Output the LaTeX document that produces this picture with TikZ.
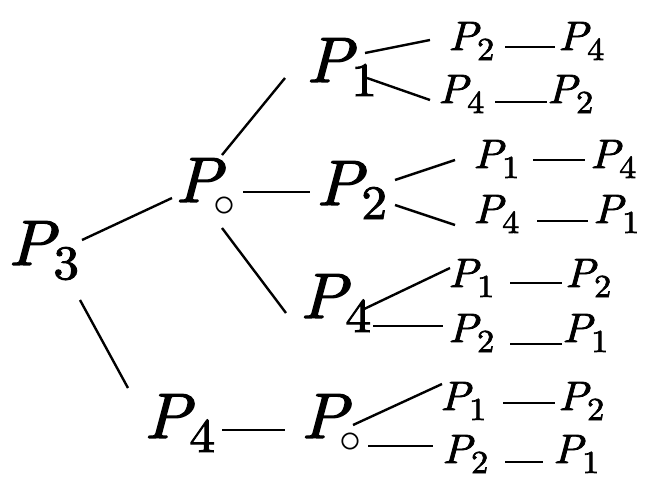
\RequirePackage{fix-cm}
\documentclass[tikz,border=0pt]{standalone}
\usepackage{fontspec}
\newfontfamily\pit[FakeBold=2,FakeStretch=1.07]{lmroman10-italic.otf}
\newfontfamily\pup[FakeBold=2,FakeStretch=1.07]{lmroman10-regular.otf}
\usetikzlibrary{calc}
\newcommand{\subsz}{48}
\newcommand{\subdrop}{14pt}
\newcommand{\Pidx}[1]{{\pit P}\kern-0.02em\raisebox{-\subdrop}{\fontsize{\subsz}{\subsz}\selectfont\pup #1}}
\newcommand{\Pring}{{\pit P}\kern-0.12em\raisebox{-14pt}{\fontsize{44}{44}\selectfont$\circ$}}
\begin{document}
\begin{tikzpicture}[x=1pt,y=-1pt,
  big/.style={inner sep=0pt, anchor=base west,
    font=\fontsize{64}{64}\selectfont\renewcommand{\subsz}{48}\renewcommand{\subdrop}{14pt}},
  leaf/.style={inner sep=0pt, anchor=base west,
    font=\fontsize{41}{41}\selectfont\renewcommand{\subsz}{32}\renewcommand{\subdrop}{10pt}},
  edge/.style={line width=2.4pt, black}]
\useasboundingbox (0,0) rectangle (661,483);
% big nodes
\node[big] (p3) at (8,265) {\Pidx{3}};
\node[big] (po) at (175,202) {\Pring};
\node[big] (p1) at (306,82) {\Pidx{1}};
\node[big] (p2) at (316,205) {\Pidx{2}};
\node[big] (p4m) at (300,318) {\Pidx{4}};
\node[big] (p4b) at (144,438) {\Pidx{4}};
\node[big] (pob) at (301,438) {\Pring};
% leaves
\node[leaf] (r1a) at (448,50) {\Pidx{2}};
\node[leaf] (r1b) at (558,50) {\Pidx{4}};
\node[leaf] (r2a) at (438,103) {\Pidx{4}};
\node[leaf] (r2b) at (547,103) {\Pidx{2}};
\node[leaf] (r3a) at (473,168) {\Pidx{1}};
\node[leaf] (r3b) at (590,168) {\Pidx{4}};
\node[leaf] (r4a) at (473,223) {\Pidx{4}};
\node[leaf] (r4b) at (593,223) {\Pidx{1}};
\node[leaf] (r5a) at (448,287) {\Pidx{1}};
\node[leaf] (r5b) at (565,287) {\Pidx{2}};
\node[leaf] (r6a) at (448,342) {\Pidx{2}};
\node[leaf] (r6b) at (562,342) {\Pidx{1}};
\node[leaf] (r7a) at (440,410) {\Pidx{1}};
\node[leaf] (r7b) at (558,410) {\Pidx{2}};
\node[leaf] (r8a) at (442,463) {\Pidx{2}};
\node[leaf] (r8b) at (553,463) {\Pidx{1}};
% tree connectors
\draw[edge] ($(p3.base west)+(74,-25)$) -- ($(po.base west)+(-3,-4)$);
\draw[edge] ($(p3.base west)+(72,35)$) -- ($(p4b.base west)+(-16,-50)$);
\draw[edge] ($(po.base west)+(47,-47)$) -- ($(p1.base west)+(-21,-4)$);
\draw[edge] ($(po.base west)+(68,-10)$) -- ($(p2.base west)+(-6,-13)$);
\draw[edge] ($(po.base west)+(47,26)$) -- ($(p4m.base west)+(-14,-5)$);
\draw[edge] ($(p1.base west)+(59,-29)$) -- ($(r1a.base west)+(-18,-10)$);
\draw[edge] ($(p1.base west)+(61,-4)$) -- ($(r2a.base west)+(-8,-3)$);
\draw[edge] ($(p2.base west)+(79,-25)$) -- ($(r3a.base west)+(-18,-8)$);
\draw[edge] ($(p2.base west)+(79,0)$) -- ($(r4a.base west)+(-18,2)$);
\draw[edge] ($(p4m.base west)+(62,-8)$) -- ($(r5a.base west)+(2,-19)$);
\draw[edge] ($(p4m.base west)+(73,8)$) -- ($(r6a.base west)+(-5,-16)$);
\draw[edge] ($(p4b.base west)+(78,-8)$) -- ($(pob.base west)+(-16,-8)$);
\draw[edge] ($(pob.base west)+(52,-13)$) -- ($(r7a.base west)+(2,-26)$);
\draw[edge] ($(pob.base west)+(67,8)$) -- ($(r8a.base west)+(-9,-17)$);
% leaf dashes
\draw[edge] ($(r1a.base west)+(57,-3)$) -- ($(r1b.base west)+(-3,-3)$);
\draw[edge] ($(r2a.base west)+(57,-1)$) -- ($(r2b.base west)+(0,-1)$);
\draw[edge] ($(r3a.base west)+(60,-8)$) -- ($(r3b.base west)+(-5,-8)$);
\draw[edge] ($(r4a.base west)+(64,-2)$) -- ($(r4b.base west)+(-5,-2)$);
\draw[edge] ($(r5a.base west)+(62,-4)$) -- ($(r5b.base west)+(-3,-4)$);
\draw[edge] ($(r6a.base west)+(62,2)$) -- ($(r6b.base west)+(0,2)$);
\draw[edge] ($(r7a.base west)+(63,-7)$) -- ($(r7b.base west)+(-3,-7)$);
\draw[edge] ($(r8a.base west)+(63,-1)$) -- ($(r8b.base west)+(-10,-1)$);
\end{tikzpicture}
\end{document}
